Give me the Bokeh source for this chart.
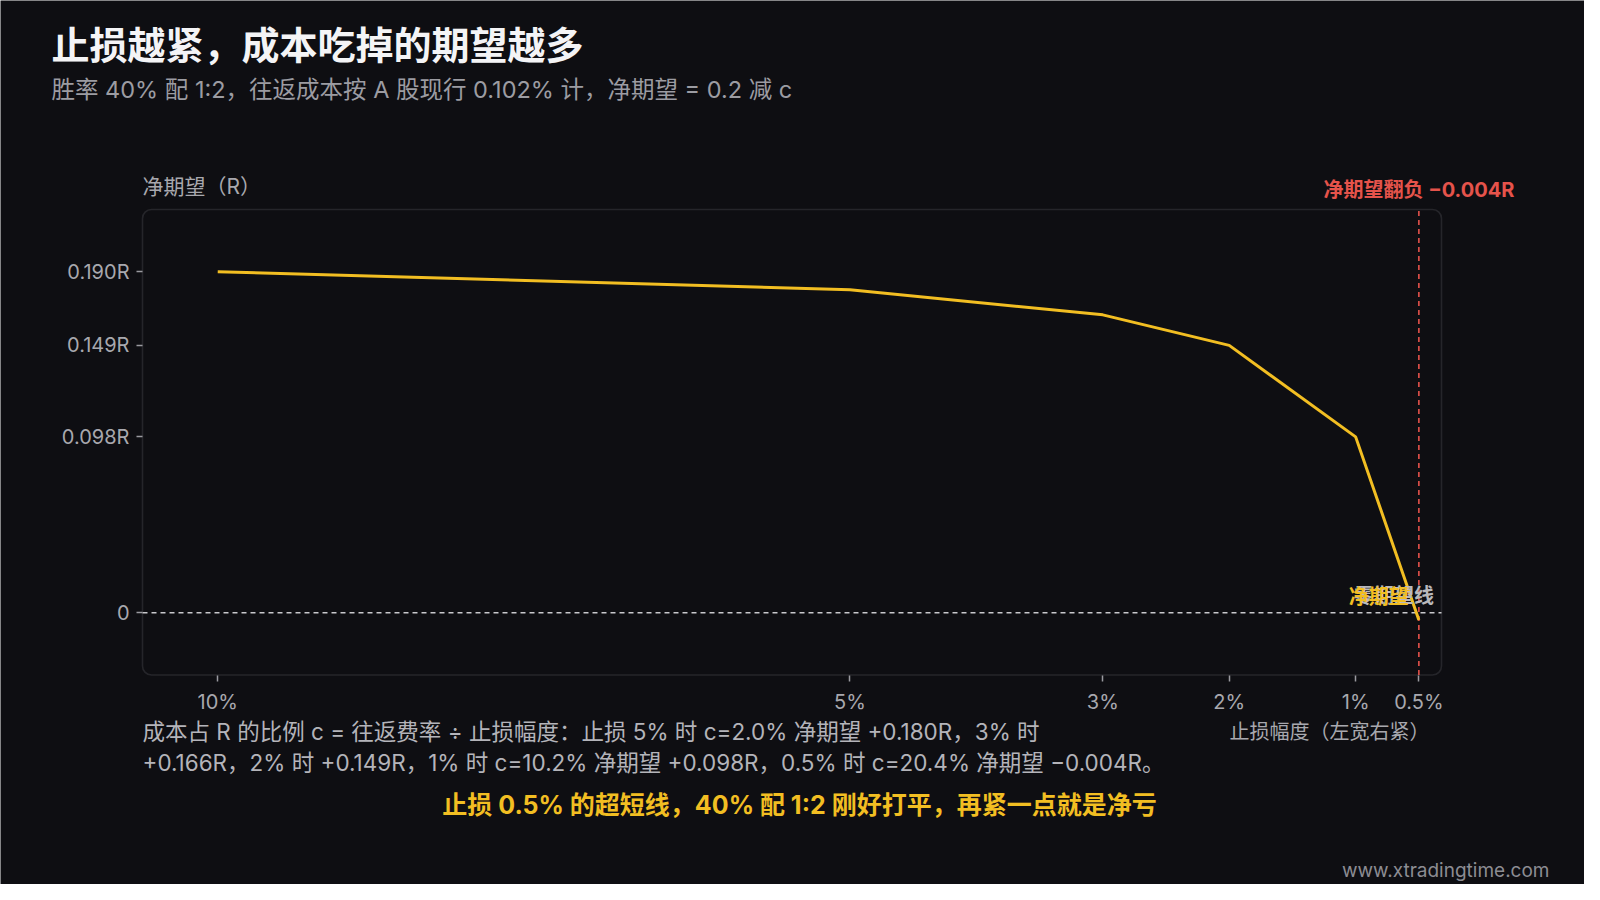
from bokeh.plotting import figure
from bokeh.models import (Range1d, Label, BoxAnnotation, FixedTicker, LinearAxis)
from bokeh.embed import file_html
from bokeh.resources import INLINE

# ---- data ----
stop_pct = [10, 5, 3, 2, 1, 0.5]
net_expect = [0.190, 0.180, 0.166, 0.149, 0.098, -0.004]
x_tick_vals = [10, 5, 3, 2, 1, 0.5]
x_tick_labels = ["10%", "5%", "3%", "2%", "1%", "0.5%"]
y_tick_vals = [0.190, 0.149, 0.098, 0.0]
y_tick_labels = ["0.190R", "0.149R", "0.098R", "0"]
zero_level = [0.0]
flip_stop = [0.5]
flip_value_text = "净期望翻负 −0.004R"

title_text = "止损越紧，成本吃掉的期望越多"
subtitle_text = "胜率 40% 配 1:2，往返成本按 A 股现行 0.102% 计，净期望 = 0.2 减 c"
y_label_text = "净期望（R）"
x_label_text = "止损幅度（左宽右紧）"
note_line1 = "成本占 R 的比例 c = 往返费率 ÷ 止损幅度：止损 5% 时 c=2.0% 净期望 +0.180R，3% 时"
note_line2 = "+0.166R，2% 时 +0.149R，1% 时 c=10.2% 净期望 +0.098R，0.5% 时 c=20.4% 净期望 −0.004R。"
highlight_text = "止损 0.5% 的超短线，40% 配 1:2 刚好打平，再紧一点就是净亏"
watermark = "www.xtradingtime.com"

# ---- style / geometry ----
BG = "#0e0e12"
YELLOW = "#F2BE22"
RED = "#E5534B"
GREY = "#a8a8ae"
FONT = "Inter, 'Noto Sans CJK SC'"

W, H = 1584, 884
X_LEFT, X_RIGHT = 10.595, 0.321       # data extent of the plot box
Y_BOT, Y_TOP = -0.0347, 0.2247
BOX_L, BOX_R, BOX_T, BOX_B = 142, 1441, 209, 674.5   # box edges on canvas (px)
u = (X_LEFT - X_RIGHT) / (BOX_R - BOX_L)
v = (Y_TOP - Y_BOT) / (BOX_B - BOX_T)

p = figure(width=W, height=H, output_backend="svg", toolbar_location=None,
           x_range=Range1d(X_LEFT + BOX_L * u, X_RIGHT - (W - BOX_R) * u),
           y_range=Range1d(Y_BOT - (H - BOX_B) * v, Y_TOP + BOX_T * v),
           x_axis_type=None, y_axis_type=None, min_border=0)
p.background_fill_color = BG
p.border_fill_color = BG
p.outline_line_color = None
p.grid.visible = False

# rounded plot box
p.add_layout(BoxAnnotation(left=X_LEFT, right=X_RIGHT, bottom=Y_BOT, top=Y_TOP,
                           fill_alpha=0, line_color="#5c5c64", line_width=1.6,
                           border_radius=9, level="underlay"))

xaxis = LinearAxis(fixed_location=Y_BOT, ticker=FixedTicker(ticks=x_tick_vals))
yaxis = LinearAxis(fixed_location=X_LEFT, ticker=FixedTicker(ticks=y_tick_vals))
p.add_layout(xaxis, "below")
p.add_layout(yaxis, "left")
for ax in (xaxis, yaxis):
    ax.axis_line_color = None
    ax.major_tick_line_color = "#9a9aa0"
    ax.major_tick_line_width = 1.5
    ax.major_tick_out = 6
    ax.major_tick_in = 0
    ax.minor_tick_line_color = None
    ax.major_label_text_color = GREY
    ax.major_label_text_font = FONT
    ax.major_label_text_font_size = "20px"
xaxis.major_label_overrides = {v_: l for v_, l in zip(x_tick_vals, x_tick_labels)}
xaxis.major_label_standoff = 9
yaxis.major_label_overrides = {v_: l for v_, l in zip(y_tick_vals, y_tick_labels)}
yaxis.major_label_standoff = 7

# zero line and flip line (limited to the plot box)
p.segment(x0=[X_LEFT], x1=[X_RIGHT], y0=zero_level, y1=zero_level,
          line_color="#c8c8cc", line_width=1.6, line_dash="5 4")
p.segment(x0=flip_stop, x1=flip_stop, y0=[Y_BOT], y1=[Y_TOP],
          line_color=RED, line_width=1.6, line_dash="5 4")

# curve
p.line(stop_pct, net_expect, line_color=YELLOW, line_width=3)


def lab(text, x, y, size, color, align="left", bold=False, x_units="screen",
        y_units="screen", baseline="middle"):
    p.add_layout(Label(x=x, y=y, x_units=x_units, y_units=y_units, text=text,
                       text_font=FONT, text_font_size=size, text_color=color,
                       text_align=align, text_baseline=baseline,
                       text_font_style="bold" if bold else "normal"))


def sy(cy):
    return H - cy


lab("零期望线", 0.38, 0.0095, "20px", "#b8b8bc", align="right", bold=True,
    x_units="data", y_units="data")
lab("净期望", 0.58, 0.0085, "20px", YELLOW, align="right", bold=True,
    x_units="data", y_units="data")
lab(flip_value_text, flip_stop[0], Y_TOP + 20 * v, "20px", RED, align="center",
    bold=True, x_units="data", y_units="data")

lab(title_text, 51, sy(44), "38px", "#f4f4f6", bold=True)
lab(subtitle_text, 51, sy(89), "23.5px", "#9c9ca2")
lab(y_label_text, 142, sy(186), "21px", GREY)
lab(x_label_text, 1429, sy(731), "20px", GREY, align="right")
lab(note_line1, 142, sy(731), "22.5px", "#b4b4ba")
lab(note_line2, 142, sy(762), "22.5px", "#b4b4ba")
lab(highlight_text, 799, sy(804), "25px", YELLOW, align="center", bold=True)
lab(watermark, 1549, sy(870), "19px", "#8c8c92", align="right")

html = file_html(p, INLINE)
html = html.replace("<body>", '<body style="background-color:#0e0e12;">', 1)
open("out.html", "w").write(html)
